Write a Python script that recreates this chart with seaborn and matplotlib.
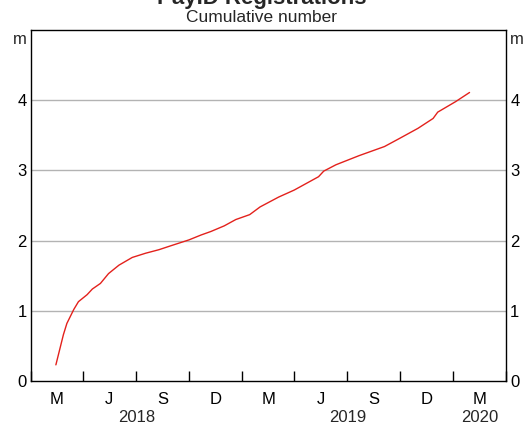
import matplotlib
matplotlib.use("Agg")
import matplotlib.pyplot as plt
import matplotlib.dates as mdates
import seaborn as sns
import pandas as pd

dates = ["2018-02-13", "2018-02-26", "2018-03-04", "2018-03-16", "2018-03-24",
         "2018-04-08", "2018-04-17", "2018-05-01", "2018-05-15", "2018-06-02",
         "2018-06-25", "2018-07-18", "2018-08-10", "2018-09-01", "2018-10-01",
         "2018-10-22", "2018-11-08", "2018-12-01", "2018-12-21", "2019-01-14",
         "2019-02-01", "2019-03-05", "2019-04-01", "2019-05-13", "2019-05-22",
         "2019-06-12", "2019-07-22", "2019-09-04", "2019-10-01", "2019-11-01",
         "2019-11-27", "2019-12-05", "2020-01-05", "2020-01-29"]
values = [0.23, 0.66, 0.82, 1.02, 1.13,
          1.23, 1.31, 1.39, 1.53, 1.65,
          1.76, 1.82, 1.87, 1.93, 2.01,
          2.08, 2.13, 2.21, 2.30, 2.37,
          2.48, 2.62, 2.72, 2.91, 2.99,
          3.08, 3.21, 3.34, 3.46, 3.60,
          3.74, 3.83, 3.98, 4.11]
y_ticks = [0, 1, 2, 3, 4]
month_labels = ["M", "J", "S", "D", "M", "J", "S", "D", "M"]
year_labels = ["2018", "2019", "2020"]

sns.set_theme(style="white")
plt.rcParams['font.family'] = ['Liberation Sans', 'DejaVu Sans']

df = pd.DataFrame({"date": pd.to_datetime(dates), "value": values})

fig = plt.figure(figsize=(5.24, 4.25), dpi=100)
ax = fig.add_axes([31/524, 1-381/425, 475/524, 351/425])

sns.lineplot(data=df, x="date", y="value", ax=ax, color="#e3211c", linewidth=1.0)

x0 = pd.Timestamp("2018-01-01")
x1 = pd.Timestamp("2020-04-01")
ax.set_xlim(x0, x1)
ax.set_ylim(0, 5)
ax.set_xlabel("")
ax.set_ylabel("")

for v in [1, 2, 3, 4]:
    ax.axhline(v, color="#b3b3b3", linewidth=1.0, zorder=0)

# quarter boundary ticks
qticks = pd.date_range("2018-01-01", "2020-04-01", freq="QS")
ax.set_xticks(qticks)
ax.set_xticklabels([""] * len(qticks))
mid = [q + (qn - q) / 2 for q, qn in zip(qticks[:-1], qticks[1:])]
ax.set_xticks(mid, minor=True)
ax.set_xticklabels(month_labels, minor=True)
ax.tick_params(axis="x", which="major", direction="in", length=7, width=1, color="black", bottom=True)
ax.tick_params(axis="x", which="minor", length=0, pad=8, labelsize=12, colors="black")

ax.set_yticks(y_ticks)
ax.set_yticklabels([str(t) for t in y_ticks])
ax.tick_params(axis="y", length=0, pad=3, labelsize=12, colors="black",
               left=True, right=True, labelleft=True, labelright=True)

for s in ax.spines.values():
    s.set_color("black")
    s.set_linewidth(1.0)

trans = ax.get_yaxis_transform()
ax.text(-0.008, 5 - 0.03, "m", transform=trans, ha="right", va="top", fontsize=12)
ax.text(1.008, 5 - 0.03, "m", transform=trans, ha="left", va="top", fontsize=12)

# year labels
year_pos = [pd.Timestamp("2018-07-02"), pd.Timestamp("2019-07-02"), pd.Timestamp("2020-02-15")]
for yp, yl in zip(year_pos, year_labels):
    xf = (mdates.date2num(yp) - mdates.date2num(x0)) / (mdates.date2num(x1) - mdates.date2num(x0))
    fig.text((31 + xf * 475) / 524, 1 - 417/425, yl, ha="center", va="center", fontsize=12)

fig.text(0.5, 1 - 4/425, "PayID Registrations", ha="center", va="baseline",
         fontsize=16, fontweight="bold")
fig.text(0.5, 1 - 18/425, "Cumulative number", ha="center", va="center", fontsize=12.5)

fig.savefig("out.png", dpi=100)
